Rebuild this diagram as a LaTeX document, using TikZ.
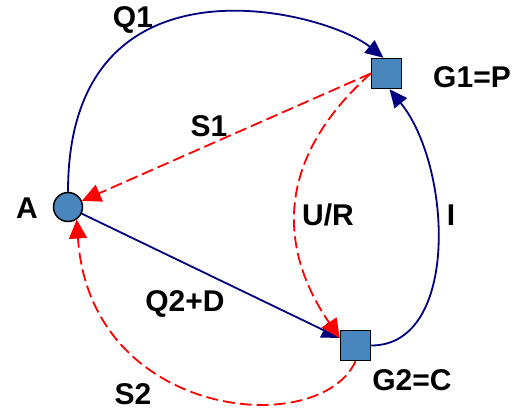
\documentclass[tikz,border=0pt]{standalone}
\usepackage{fontspec}
\setmainfont{Liberation Sans}
\usetikzlibrary{arrows.meta}
\definecolor{navyc}{RGB}{0,0,128}
\definecolor{boxblue}{RGB}{74,134,190}
\begin{document}
\begin{tikzpicture}[x=1pt,y=-1pt,
  lbl/.style={font=\fontsize{30}{36}\selectfont\bfseries, inner sep=0pt},
  shapebox/.style={draw=black, line width=1.5pt, fill=boxblue, inner sep=0pt, minimum size=30pt},
  navyarrow/.style={draw=navyc, line width=1.8pt, -{Triangle[length=18pt,width=16pt]}},
  redarrow/.style={draw=red, line width=1.8pt, dash pattern=on 12pt off 5pt, -{Triangle[length=19pt,width=18pt]}}
]
\useasboundingbox (0,0) rectangle (514,412);

\node[shapebox, circle, minimum size=29pt] (A) at (68,207) {};
\node[shapebox, rectangle] (G1) at (386.5,73.5) {};
\node[shapebox, rectangle] (G2) at (355.5,345.5) {};

% labels
\node[lbl] (lQ1) at (133,20) {Q1};
\node[lbl] (lG1) at (472,77) {G1=P};
\node[lbl] (lS1) at (209,126) {S1};
\node[lbl] (lA) at (27,208) {A};
\node[lbl] (lUR) at (328,215) {U/R};
\node[lbl] (lI) at (451,215) {I};
\node[lbl] (lQ2) at (185,304) {Q2+D};
\node[lbl] (lS2) at (133,394) {S2};
\node[lbl] (lG2) at (412,380) {G2=C};

% navy connectors
\draw[navyarrow] (A.north) .. controls (68,-55) and (324,10) .. ([xshift=-3pt]G1.north);
\draw[navyarrow] (A) -- (G2);
\draw[navyarrow] (G2.east) .. controls (460,345.5) and (452,166) .. ([xshift=3pt]G1.south);

% red dashed connectors
\draw[redarrow] (G1.west) -- (A);
\draw[redarrow] (G1.west) .. controls (275,159) and (278,248) .. (G2.155);
\draw[redarrow] (G2.south) .. controls (320,440) and (90,420) .. (A.-55);
\end{tikzpicture}
\end{document}
